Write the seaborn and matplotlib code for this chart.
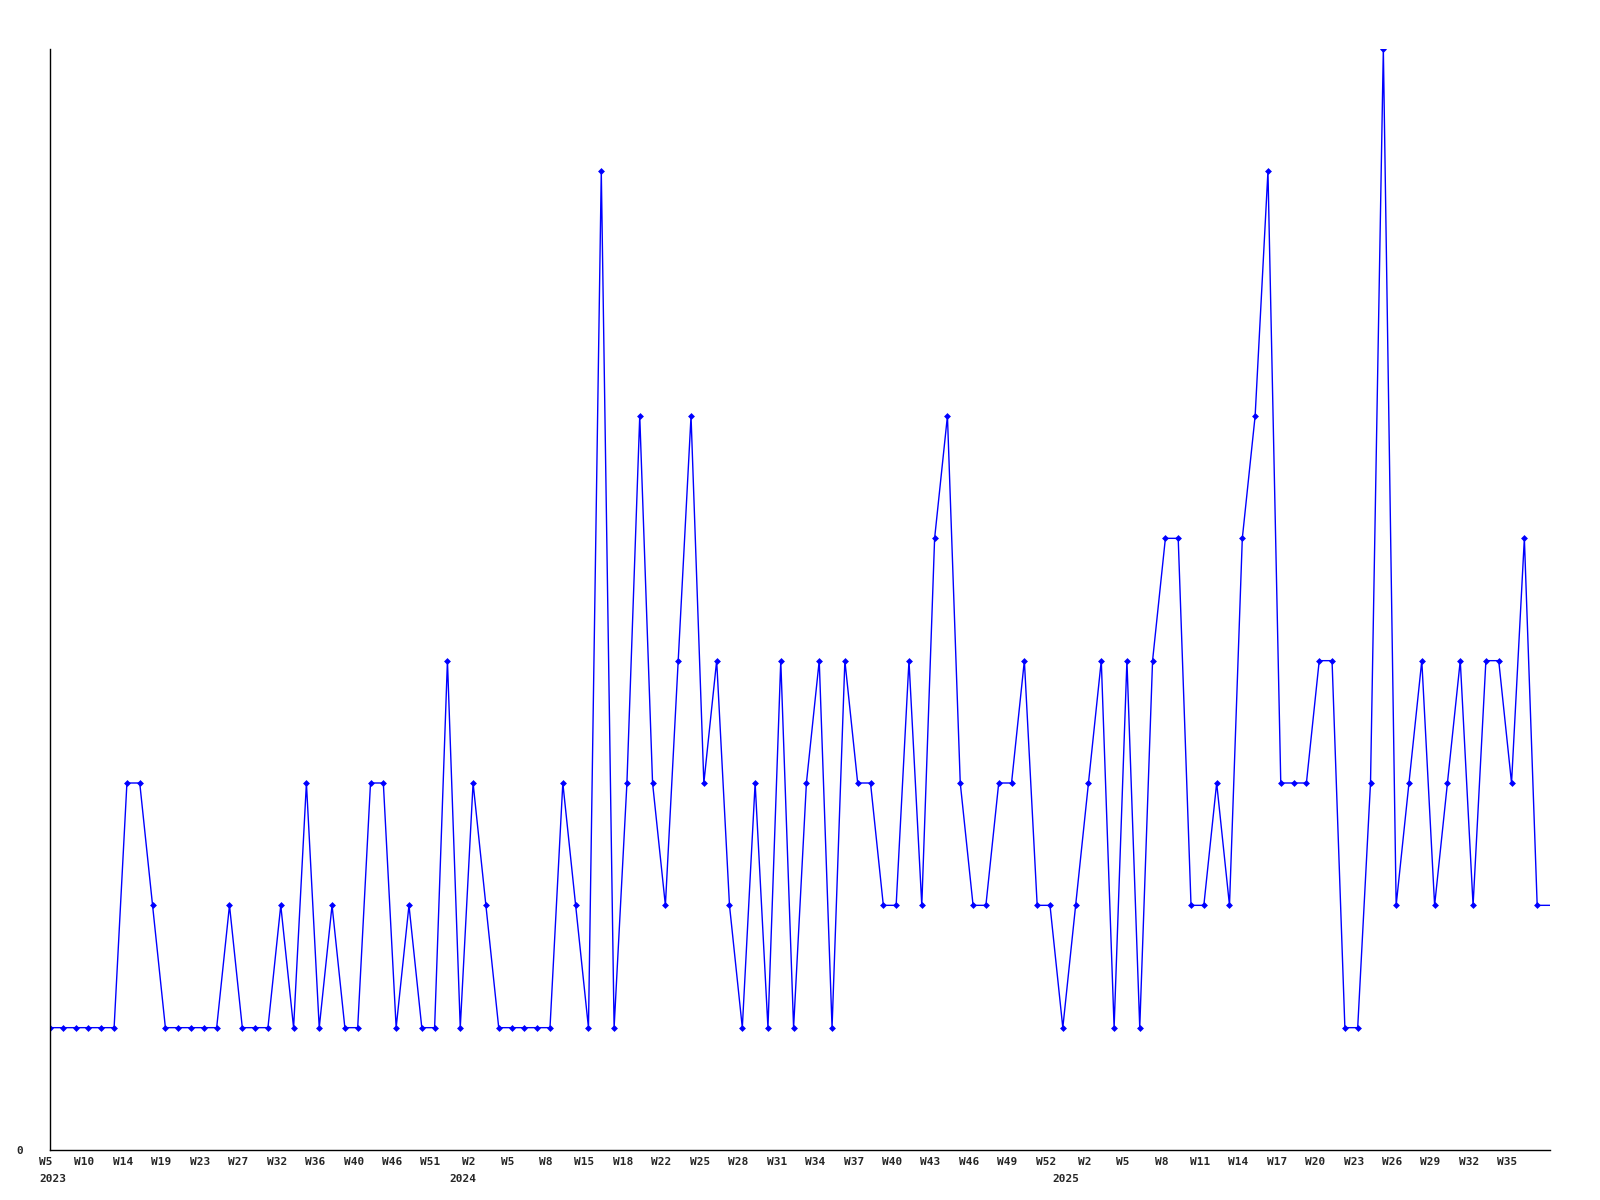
import numpy as np
import pandas as pd
import seaborn as sns
import matplotlib.pyplot as plt
from matplotlib.transforms import ScaledTranslation

# weekly counts (last entry only closes the line)
counts = [1, 1, 1, 1, 1, 1, 3, 3, 2, 1, 1, 1, 1, 1, 2, 1, 1, 1, 2, 1,
          3, 1, 2, 1, 1, 3, 3, 1, 2, 1, 1, 4, 1, 3, 2, 1, 1, 1, 1, 1,
          3, 2, 1, 8, 1, 3, 6, 3, 2, 4, 6, 3, 4, 2, 1, 3, 1, 4, 1, 3,
          4, 1, 4, 3, 3, 2, 2, 4, 2, 5, 6, 3, 2, 2, 3, 3, 4, 2, 2, 1,
          2, 3, 4, 1, 4, 1, 4, 5, 5, 2, 2, 3, 2, 5, 6, 8, 3, 3, 3, 4,
          4, 1, 1, 3, 9, 2, 3, 4, 2, 3, 4, 2, 4, 4, 3, 5, 2, 2]

week_labels = ["W5", "W10", "W14", "W19", "W23", "W27", "W32", "W36", "W40",
               "W46", "W51", "W2", "W5", "W8", "W15", "W18", "W22", "W25",
               "W28", "W31", "W34", "W37", "W40", "W43", "W46", "W49", "W52",
               "W2", "W5", "W8", "W11", "W14", "W17", "W20", "W23", "W26",
               "W29", "W32", "W35"]

years = ["2023", "2024", "2025"]
year_start_idx = [0, 32, 79]

df = pd.DataFrame({"idx": np.arange(len(counts)), "count": counts})

sns.set_style("white")
plt.rcParams["font.family"] = ["DejaVu Sans Mono"]

fig = plt.figure(figsize=(16, 12), dpi=100)
ax = fig.add_axes([50 / 1600, 50 / 1200, 1500 / 1600, 1101 / 1200])

n = len(counts)
sns.lineplot(data=df, x="idx", y="count", ax=ax, color="#0000ff",
             linewidth=1.0, marker="D", markersize=3.5,
             markeredgewidth=0, markevery=list(range(n - 1)))

ax.set_xlim(0, n - 1)
ax.set_ylim(0, 9)
ax.set_xlabel("")
ax.set_ylabel("")

ax.set_xticks(range(0, 3 * len(week_labels), 3))
ax.set_xticklabels(week_labels, fontsize=8, fontweight="bold")
ax.set_yticks([0])
ax.set_yticklabels(["0"], fontsize=8, fontweight="bold")
ax.tick_params(axis="x", length=0, pad=5)
ax.tick_params(axis="y", length=0, pad=19)

# labels in the reference sit a few pixels left of their points
shift = ScaledTranslation(-4 / 100, 0, fig.dpi_scale_trans)
for lbl in ax.get_xticklabels():
    lbl.set_transform(lbl.get_transform() + shift)

for yr, i in zip(years, year_start_idx):
    ax.text(i, -0.022, yr, transform=ax.get_xaxis_transform() + ScaledTranslation(3 / 100, 0, fig.dpi_scale_trans),
            ha="center", va="top", fontsize=8, fontweight="bold")

for s in ["top", "right"]:
    ax.spines[s].set_visible(False)
for s in ["left", "bottom"]:
    ax.spines[s].set_color("black")
    ax.spines[s].set_linewidth(1)

fig.savefig("out.png", dpi=100)
